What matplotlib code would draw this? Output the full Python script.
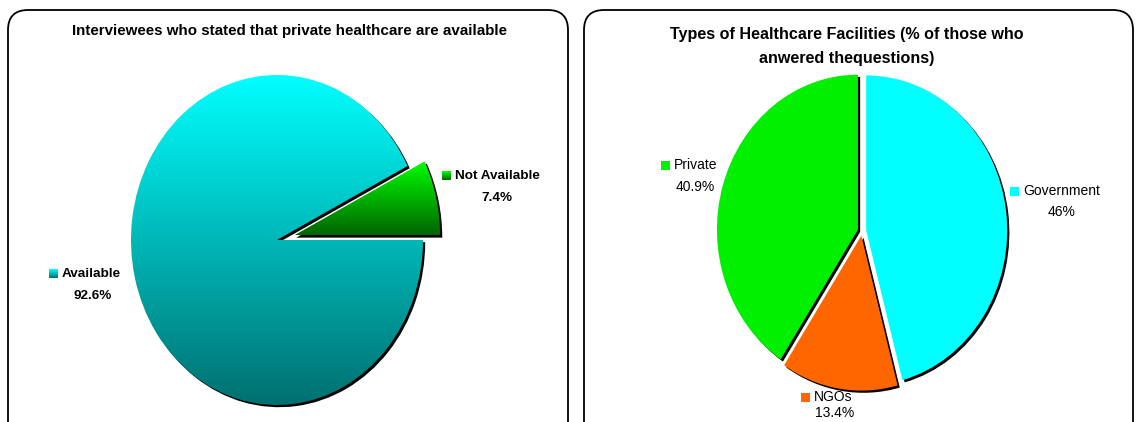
import numpy as np
import matplotlib
matplotlib.use("Agg")
import matplotlib.pyplot as plt
import matplotlib.patches as mpatches
import matplotlib.transforms as mtransforms

plt.rcParams['font.family'] = ['Liberation Sans', 'DejaVu Sans']

# data
avail_labels = ["Not Available", "Available"]
avail_values = [7.4, 92.6]
avail_pct = ["7.4%", "92.6%"]

facility_labels = ["Government", "NGOs", "Private"]
facility_values = [46, 13.4, 40.9]
facility_pct = ["46%", "13.4%", "40.9%"]
facility_colors = ["#00FFFF", "#FF6600", "#00F000"]

W, H = 1136, 422
fig = plt.figure(figsize=(W / 100, H / 100), dpi=100)

# background axes in pixel coords, for the panel frames and labels
bg = fig.add_axes([0, 0, 1, 1])
bg.axis('off')

for x0, x1 in [(8, 568), (584, 1133)]:
    box = mpatches.FancyBboxPatch((x0, 10), x1 - x0, 440,
                                  boxstyle="round,pad=0,rounding_size=20",
                                  fc='white', ec='black', lw=1.3, zorder=1)
    bg.add_patch(box)


def pie_axes(cx, cy, rx, ry, lim=1.25):
    """axes whose data unit circle maps to an rx by ry pixel ellipse"""
    ax = fig.add_axes([(cx - rx * lim) / W, 1 - (cy + ry * lim) / H,
                       2 * rx * lim / W, 2 * ry * lim / H])
    ax.patch.set_visible(False)
    return ax


def gradient_fill(ax, wedge, c_top, c_bot, zorder):
    ext = wedge.get_path().get_extents()
    t = np.linspace(0, 1, 256)[:, None]
    top = np.array(matplotlib.colors.to_rgb(c_top))
    bot = np.array(matplotlib.colors.to_rgb(c_bot))
    img = (bot * (1 - t) + top * t)[:, None, :]
    im = ax.imshow(img, extent=[ext.x0, ext.x1, ext.y0, ext.y1],
                   origin='lower', aspect='auto', zorder=zorder,
                   interpolation='bilinear')
    im.set_clip_path(wedge)


def add_shadows(ax, wedges):
    off = ax.transData + mtransforms.ScaledTranslation(0.022, -0.022, fig.dpi_scale_trans)
    for w in wedges:
        s = mpatches.Wedge(w.center, w.r, w.theta1, w.theta2, fc='black',
                           lw=0, transform=off, zorder=0.5)
        ax.add_patch(s)
        w.set_zorder(1)


def key_text(x, y, label, pct, pct_x, pct_y, color, weight, grad=None):
    if grad is None:
        bg.add_patch(mpatches.Rectangle((x, y - 4.5), 9, 9, fc=color, lw=0, zorder=3))
    else:
        t = np.linspace(0, 1, 32)[:, None]
        top = np.array(matplotlib.colors.to_rgb(grad[0]))
        bot = np.array(matplotlib.colors.to_rgb(grad[1]))
        img = (top * (1 - t) + bot * t)[:, None, :]
        bg.imshow(img, extent=[x, x + 9, y + 4.5, y - 4.5], aspect='auto',
                  interpolation='bilinear', zorder=3)
    size = 9.7 if weight == 'bold' else 10
    bg.text(x + 13, y, label, fontsize=size, fontweight=weight,
            va='center', ha='left', zorder=4)
    bg.text(pct_x, pct_y, pct, fontsize=size, fontweight=weight,
            va='center', ha='center', zorder=4)


# ---- left panel
bg.text(289, 31, "Interviewees who stated that private healthcare are available",
        fontsize=10.9, fontweight='bold', ha='center', va='center', zorder=4)

axl = pie_axes(277, 240, 146, 165)
wl, _ = axl.pie(avail_values, startangle=0, counterclock=True,
                explode=[0.12, 0], wedgeprops=dict(lw=0))
add_shadows(axl, wl)
gradient_fill(axl, wl[0], "#00FF00", "#006400", 2)
gradient_fill(axl, wl[1], "#00FFFF", "#007070", 2)
for w in wl:
    w.set_facecolor('none')
axl.set_aspect('auto')
axl.set_xlim(-1.25, 1.25)
axl.set_ylim(-1.25, 1.25)
axl.axis('off')

key_text(442, 176, avail_labels[0], avail_pct[0], 497, 198, None, 'bold',
         grad=("#00FF00", "#006400"))
key_text(49, 274, avail_labels[1], avail_pct[1], 93, 296, None, 'bold',
         grad=("#00FFFF", "#007070"))

# ---- right panel
bg.text(847, 34, "Types of Healthcare Facilities (% of those who",
        fontsize=11.6, fontweight='bold', ha='center', va='center', zorder=4)
bg.text(847, 58, "anwered thequestions)",
        fontsize=11.6, fontweight='bold', ha='center', va='center', zorder=4)

axr = pie_axes(862, 231, 141, 155)
wr, _ = axr.pie(facility_values, colors=facility_colors, startangle=90,
                counterclock=False, explode=[0.03] * 3, wedgeprops=dict(lw=0))
add_shadows(axr, wr)
axr.set_aspect('auto')
axr.set_xlim(-1.25, 1.25)
axr.set_ylim(-1.25, 1.25)
axr.axis('off')

key_text(1010, 191, facility_labels[0], facility_pct[0], 1062, 212, facility_colors[0], 'normal')
key_text(801, 397, facility_labels[1], facility_pct[1], 835, 413, facility_colors[1], 'normal')
key_text(661, 165, facility_labels[2], facility_pct[2], 695, 187, facility_colors[2], 'normal')

# pixel coords, set last since imshow rescales the view
bg.set_xlim(0, W)
bg.set_ylim(H, 0)

fig.savefig("out.png", dpi=100)
